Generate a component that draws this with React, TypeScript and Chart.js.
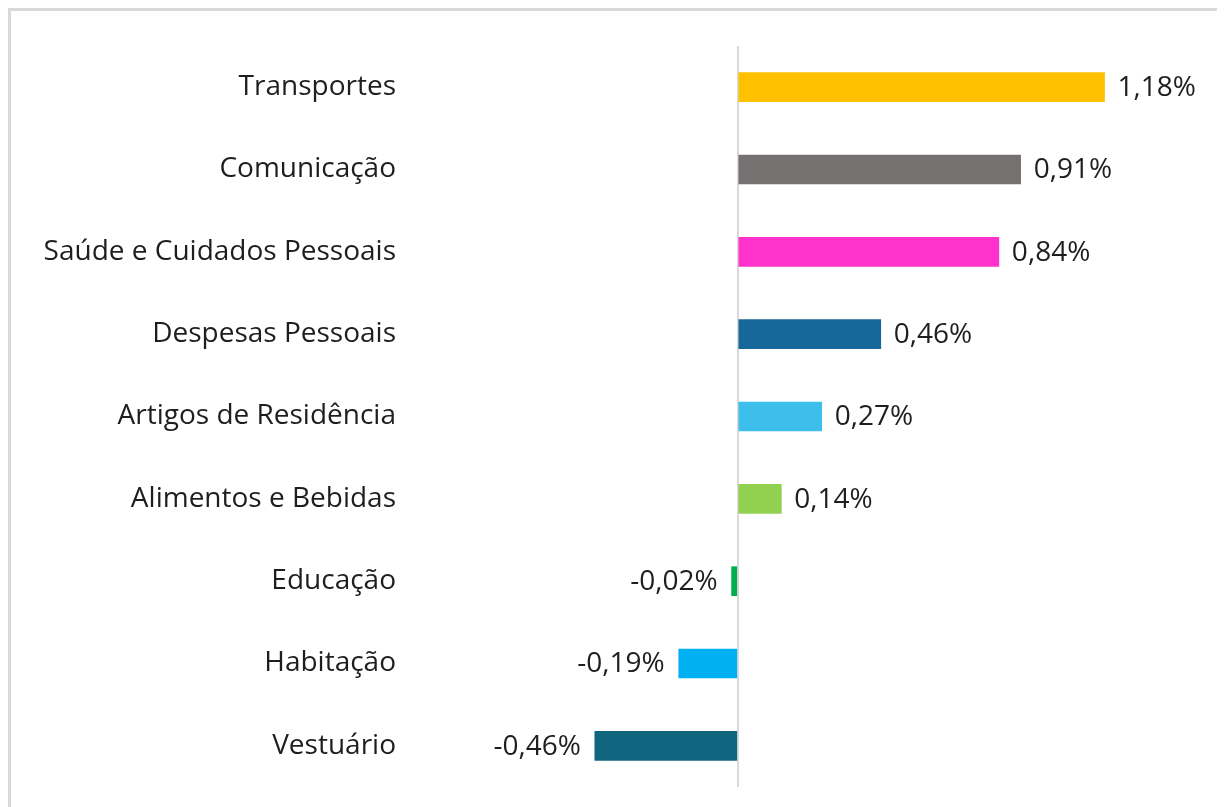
import React, { useEffect, useRef } from "react";
import { Chart, registerables } from "chart.js";

Chart.register(...registerables);

const categories = [
  "Transportes",
  "Comunicação",
  "Saúde e Cuidados Pessoais",
  "Despesas Pessoais",
  "Artigos de Residência",
  "Alimentos e Bebidas",
  "Educação",
  "Habitação",
  "Vestuário",
];
const values = [1.18, 0.91, 0.84, 0.46, 0.27, 0.14, -0.02, -0.19, -0.46];
const barColors = [
  "#FFC000",
  "#767171",
  "#FF33CC",
  "#156899",
  "#3DBFEC",
  "#92D050",
  "#00B050",
  "#00B0F0",
  "#10667F",
];

const FONT = "'Open Sans', 'DejaVu Sans', sans-serif";
const FONT_SIZE = 28;

const fmt = (v: number) => v.toFixed(2).replace(".", ",") + "%";

const valueLabels = {
  id: "valueLabels",
  afterDatasetsDraw(chart: any) {
    const ctx = chart.ctx;
    const meta = chart.getDatasetMeta(0);
    ctx.save();
    ctx.font = `${FONT_SIZE}px ${FONT}`;
    ctx.fillStyle = "#1e1e1e";
    ctx.textBaseline = "middle";
    meta.data.forEach((bar: any, i: number) => {
      const v = values[i];
      if (v >= 0) {
        ctx.textAlign = "left";
        ctx.fillText(fmt(v), bar.x + 13, bar.y + 1);
      } else {
        ctx.textAlign = "right";
        ctx.fillText(fmt(v), bar.x - 14, bar.y + 1);
      }
    });
    ctx.restore();
  },
};

export default function App() {
  const ref = useRef<HTMLCanvasElement>(null);
  useEffect(() => {
    const chart = new Chart(ref.current!, {
      type: "bar",
      data: {
        labels: categories,
        datasets: [
          {
            data: values,
            backgroundColor: barColors,
            borderWidth: 0,
            barThickness: 29,
          },
        ],
      },
      options: {
        indexAxis: "y",
        animation: false,
        responsive: false,
        layout: { padding: { top: 38, bottom: 17, right: 18, left: 0 } },
        plugins: { legend: { display: false }, tooltip: { enabled: false } },
        scales: {
          x: {
            min: -1.0,
            max: 1.5,
            ticks: { display: false, stepSize: 0.5 },
            border: { display: false },
            grid: {
              drawTicks: false,
              lineWidth: 2,
              color: (c: any) => (c.tick && c.tick.value === 0 ? "#d9d9d9" : "rgba(0,0,0,0)"),
            },
          },
          y: {
            border: { display: false },
            grid: { display: false, drawTicks: false },
            ticks: {
              padding: 31,
              color: "#1e1e1e",
              font: { family: FONT, size: FONT_SIZE },
            },
            afterFit: (s: any) => {
              s.width = 419;
              s.paddingTop = 0;
              s.paddingBottom = 0;
            },
          },
        },
      },
      plugins: [valueLabels],
    });
    return () => chart.destroy();
  }, []);
  return (
    <div
      style={{
        width: 1217,
        height: 799,
        overflow: "hidden",
        position: "relative",
        boxSizing: "border-box",
        borderLeft: "3px solid #d9d9d9",
        borderTop: "3px solid #d9d9d9",
      }}
    >
      <canvas ref={ref} width={1214} height={796} style={{ position: "absolute", left: -3, top: -3 }} />
    </div>
  );
}
